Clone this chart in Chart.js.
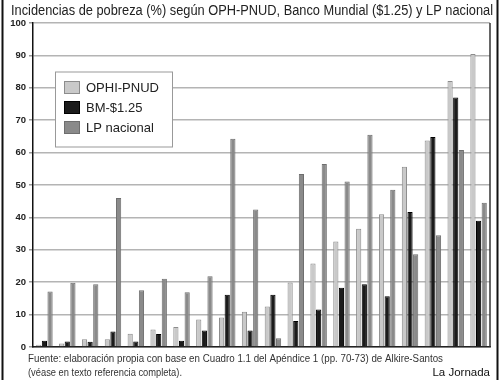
<!DOCTYPE html>
<html>
<head>
<meta charset="utf-8">
<script src="https://cdn.jsdelivr.net/npm/chart.js@4"></script>
<style>
html,body{margin:0;padding:0;background:#fff;}
#wrap{width:500px;height:380px;position:relative;}
</style>
</head>
<body>
<div id="wrap"><canvas id="c" width="500" height="380"></canvas></div>
<script>
const categories = ["1","2","3","4","5","6","7","8","9","10","11","12","13","14","15","16","17","18","19","20"];
const ophiPnud = [0.7, 1.1, 2.4, 2.4, 4.1, 5.4, 6.2, 8.5, 9.1, 10.9, 12.5, 19.9, 25.8, 32.6, 36.5, 41.0, 55.6, 63.7, 82.1, 90.4];
const bm125    = [1.9, 1.7, 1.6, 4.8, 1.7, 4.0, 1.9, 5.1, 16.1, 5.1, 16.1, 8.0, 11.6, 18.3, 19.4, 15.7, 41.7, 64.8, 77.0, 39.0];
const lpNac    = [17.1, 19.8, 19.4, 46.0, 17.5, 21.1, 16.9, 21.8, 64.3, 42.4, 2.7, 53.4, 56.5, 51.1, 65.5, 48.5, 28.6, 34.5, 60.8, 44.5];
const seriesNames = ["OPHI-PNUD", "BM-$1.25", "LP nacional"];
const yTicks = [0,10,20,30,40,50,60,70,80,90,100];
const titleText = "Incidencias de pobreza (%) según OPH-PNUD, Banco Mundial ($1.25) y LP nacional";
const sourceLine1 = "Fuente: elaboración propia con base en Cuadro 1.1 del Apéndice 1 (pp. 70-73) de Alkire-Santos";
const sourceLine2 = "(véase en texto referencia completa).";
const credit = "La Jornada";

const FONT = "'Liberation Sans', Arial, sans-serif";
const fills = ["#c9c9c9", "#1b1b1b", "#8a8a8a"];
const borders = ["#8c8c8c", "#000000", "#6e6e6e"];

function fitText(ctx, text, x, y, targetW) {
  const w = ctx.measureText(text).width;
  const sx = targetW / w;
  ctx.save();
  ctx.translate(x, y);
  ctx.scale(sx, 1);
  ctx.fillText(text, 0, 0);
  ctx.restore();
}

const decor = {
  id: 'decor',
  afterDraw(chart) {
    const ctx = chart.ctx;
    const a = chart.chartArea;
    ctx.save();
    ctx.strokeStyle = '#333';
    ctx.lineWidth = 1.5;
    ctx.beginPath();
    ctx.moveTo(a.right, a.top);
    ctx.lineTo(a.right, a.bottom);
    ctx.stroke();
    ctx.strokeStyle = '#111';
    ctx.lineWidth = 2;
    ctx.beginPath();
    ctx.moveTo(2.5, 0); ctx.lineTo(2.5, 380);
    ctx.moveTo(497.5, 0); ctx.lineTo(497.5, 380);
    ctx.stroke();
    // title
    ctx.fillStyle = '#222';
    ctx.font = "14px " + FONT;
    ctx.textBaseline = 'middle';
    ctx.textAlign = 'left';
    fitText(ctx, titleText, 11, 11, 482);
    // source
    ctx.font = "10px " + FONT;
    ctx.fillStyle = '#333';
    fitText(ctx, sourceLine1, 28, 359, 415);
    fitText(ctx, sourceLine2, 28, 373, 154);
    ctx.font = "11.5px " + FONT;
    ctx.fillStyle = '#111';
    ctx.textAlign = 'right';
    ctx.fillText(credit, 490, 373);
    // legend
    const lx = 55, ly = 71.5, lw = 117, lh = 75;
    ctx.fillStyle = '#fff';
    ctx.fillRect(lx, ly, lw, lh);
    ctx.strokeStyle = '#999';
    ctx.lineWidth = 1;
    ctx.strokeRect(lx + 0.5, ly + 0.5, lw, lh);
    ctx.textAlign = 'left';
    ctx.font = "13px " + FONT;
    chart.data.datasets.forEach((ds, i) => {
      const cy = 87.5 + i * 20;
      ctx.fillStyle = ds.backgroundColor;
      ctx.fillRect(64.5, cy - 6, 15, 12);
      ctx.strokeStyle = ds.borderColor;
      ctx.strokeRect(64.5, cy - 6, 15, 12);
      ctx.fillStyle = '#222';
      ctx.fillText(ds.label, 86, cy + 0.5);
    });
    ctx.restore();
  }
};

new Chart(document.getElementById('c'), {
  type: 'bar',
  data: {
    labels: categories,
    datasets: [
      { label: seriesNames[0], data: ophiPnud, backgroundColor: fills[0], borderColor: borders[0], borderWidth: 1 },
      { label: seriesNames[1], data: bm125, backgroundColor: fills[1], borderColor: borders[1], borderWidth: 1 },
      { label: seriesNames[2], data: lpNac, backgroundColor: fills[2], borderColor: borders[2], borderWidth: 1 }
    ]
  },
  options: {
    responsive: false,
    animation: false,
    devicePixelRatio: 1,
    layout: { padding: { left: 0, right: 10, top: 23, bottom: 33 } },
    datasets: { bar: { categoryPercentage: 0.74, barPercentage: 0.92 } },
    plugins: { legend: { display: false }, title: { display: false }, tooltip: { enabled: false } },
    scales: {
      x: {
        ticks: { display: false },
        grid: { display: false, drawTicks: false },
        border: { display: true, color: '#222', width: 1.5 },
        afterFit(s) { s.height = 0; }
      },
      y: {
        min: 0, max: 100,
        afterBuildTicks(s) { s.ticks = yTicks.map(v => ({ value: v })); },
        ticks: { font: { family: FONT, size: 9.5, weight: 'bold' }, color: '#222', padding: 3 },
        grid: { color: '#b4b4b4', lineWidth: 1.5, tickLength: 4, tickColor: '#999' },
        border: { display: true, color: '#111', width: 1.5 },
        afterFit(s) { s.width = 33; }
      }
    }
  },
  plugins: [decor]
});
</script>
</body>
</html>
